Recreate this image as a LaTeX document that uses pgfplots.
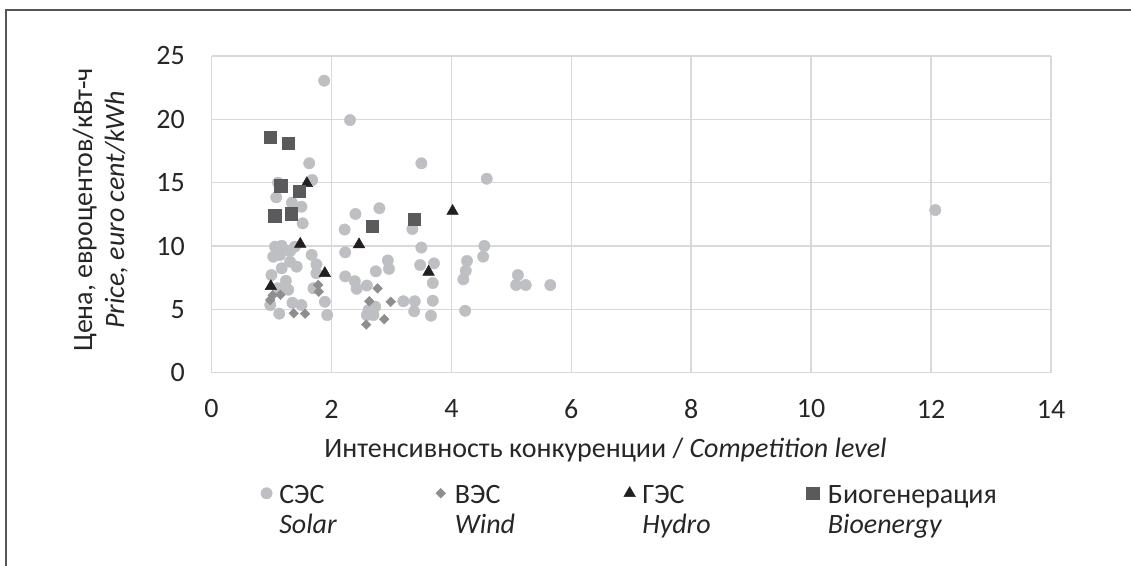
\documentclass[border=0pt]{standalone}
\usepackage{fontspec}
\setmainfont{Carlito}
\usepackage{pgfplots}
\pgfplotsset{compat=1.18}

\definecolor{solar}{RGB}{190,191,195}
\definecolor{wind}{RGB}{142,142,142}
\definecolor{hydro}{RGB}{35,31,32}
\definecolor{bio}{RGB}{90,90,92}
\definecolor{gridgray}{RGB}{217,217,217}
\definecolor{framegray}{RGB}{85,85,85}
\definecolor{txt}{RGB}{38,38,38}

\newcommand{\chartfont}{\fontsize{28bp}{32bp}\selectfont}
% legend marker, #1 = room to the right of the mark
\pgfplotsset{limg/.style={legend image code/.code={\path (-6bp,0) (#1,0); \draw[##1] plot coordinates {(0bp,0bp)};}}}

\begin{document}
\begin{tikzpicture}
\path[use as bounding box] (0,0) rectangle (1131bp,566bp);
\draw[line width=2bp, framegray] (6bp,0) -- (6bp,556bp) -- (1131bp,556bp);
\begin{axis}[
    at={(211.5bp,193.3bp)}, anchor=south west,
    scale only axis, width=839.5bp, height=316.7bp,
    xmin=0, xmax=14, ymin=0, ymax=25,
    xtick={0,2,...,14}, ytick={0,5,...,25},
    grid=major, grid style={line width=1.5bp, gridgray},
    axis line style={draw=none},
    major tick length=0pt,
    tick label style={font=\chartfont, txt, inner sep=0pt},
    /pgf/number format/assume math mode=true,
    yticklabel style={anchor=east, xshift=-26.5bp},
    xticklabel style={anchor=center, yshift=-36.3bp},
    xlabel={Интенсивность конкуренции / \textit{Competition level}},
    xlabel style={at={(axis description cs:0.4693,-0.2662)}, anchor=base, inner sep=0pt, font=\chartfont, txt},
    ylabel={Цена, евроцентов/кВт-ч\\\textit{Price, euro cent/kWh}},
    ylabel style={at={(axis description cs:-0.1325,0.514)}, anchor=center, align=center, inner sep=0pt, font=\chartfont, txt},
    legend columns=4,
    legend cell align=left,
    legend style={at={(0.0582,-0.3429)}, anchor=north west, draw=none, fill=none,
        inner sep=0pt, outer sep=0pt, column sep=0pt, row sep=6bp,
        font=\chartfont, text=txt,
        nodes={inner sep=0pt, text height=22bp, text depth=2bp}},
]
\addplot[only marks, mark=*, mark size=5.7bp, color=solar, limg=12.5bp]
coordinates {
(1.88,23.05) (2.31,19.94) (1.63,16.53) (1.68,15.21) (1.11,15.00) (1.08,13.84)
(1.34,13.42) (1.50,13.10) (3.50,16.53) (4.59,15.31) (2.40,12.53) (2.80,12.98)
(12.07,12.84) (3.35,11.34) (2.22,11.30) (1.52,11.79) (3.50,9.88) (4.55,10.01)
(2.23,9.50) (4.53,9.16) (2.94,8.86) (2.96,8.20) (4.26,8.82) (4.24,8.05)
(4.20,7.37) (3.48,8.50) (3.71,8.63) (3.69,7.08) (2.74,8.00) (2.23,7.60)
(2.39,7.22) (2.42,6.62) (2.59,6.88) (2.62,4.95) (2.73,5.21) (2.70,4.55)
(2.59,4.55) (3.20,5.64) (3.39,5.64) (3.38,4.85) (3.69,5.68) (3.66,4.50)
(4.23,4.89) (5.11,7.71) (5.08,6.92) (5.24,6.92) (5.65,6.92) (1.93,4.55)
(1.89,5.60) (1.06,9.95) (1.17,10.02) (1.31,9.60) (1.39,9.95) (1.03,9.16)
(1.14,9.29) (1.67,9.30) (1.75,8.55) (1.75,7.85) (1.31,8.76) (1.42,8.37)
(1.17,8.24) (1.00,7.71) (1.24,7.25) (1.28,6.55) (1.10,6.66) (1.70,6.66)
(0.98,5.34) (1.13,4.66) (1.35,5.52) (1.50,5.34)
};
\addlegendentry{\makebox[155.3bp][l]{СЭС}}
\addplot[only marks, mark=square*, mark size=3.4bp, color=wind, mark options={rotate=45}, limg=14bp]
coordinates {
(1.02,6.10) (1.15,6.15) (0.98,5.74) (1.78,6.92) (1.79,6.39) (1.37,4.69)
(1.56,4.66) (2.77,6.66) (2.63,5.64) (2.99,5.60) (2.58,3.80) (2.88,4.22)
};
\addlegendentry{\makebox[168.5bp][l]{ВЭС}}
\addplot[only marks, mark=triangle*, mark size=6.7bp, color=hydro, limg=12.5bp]
coordinates {
(1.59,14.95) (4.02,12.75) (2.46,10.12) (1.48,10.16) (3.62,7.95) (1.89,7.85) (0.99,6.82)
};
\addlegendentry{\makebox[164.1bp][l]{ГЭС}}
\addplot[only marks, mark=square*, mark size=6.3bp, color=bio, limg=15bp]
coordinates {
(0.98,18.58) (1.28,18.11) (1.15,14.74) (1.46,14.32) (1.05,12.37) (1.33,12.53)
(2.68,11.58) (3.38,12.11)
};
\addlegendentry{Биогенерация}
\addlegendimage{empty legend}
\addlegendentry{\textit{Solar}}
\addlegendimage{empty legend}
\addlegendentry{\textit{Wind}}
\addlegendimage{empty legend}
\addlegendentry{\textit{Hydro}}
\addlegendimage{empty legend}
\addlegendentry{\textit{Bioenergy}}
\end{axis}
\end{tikzpicture}
\end{document}
